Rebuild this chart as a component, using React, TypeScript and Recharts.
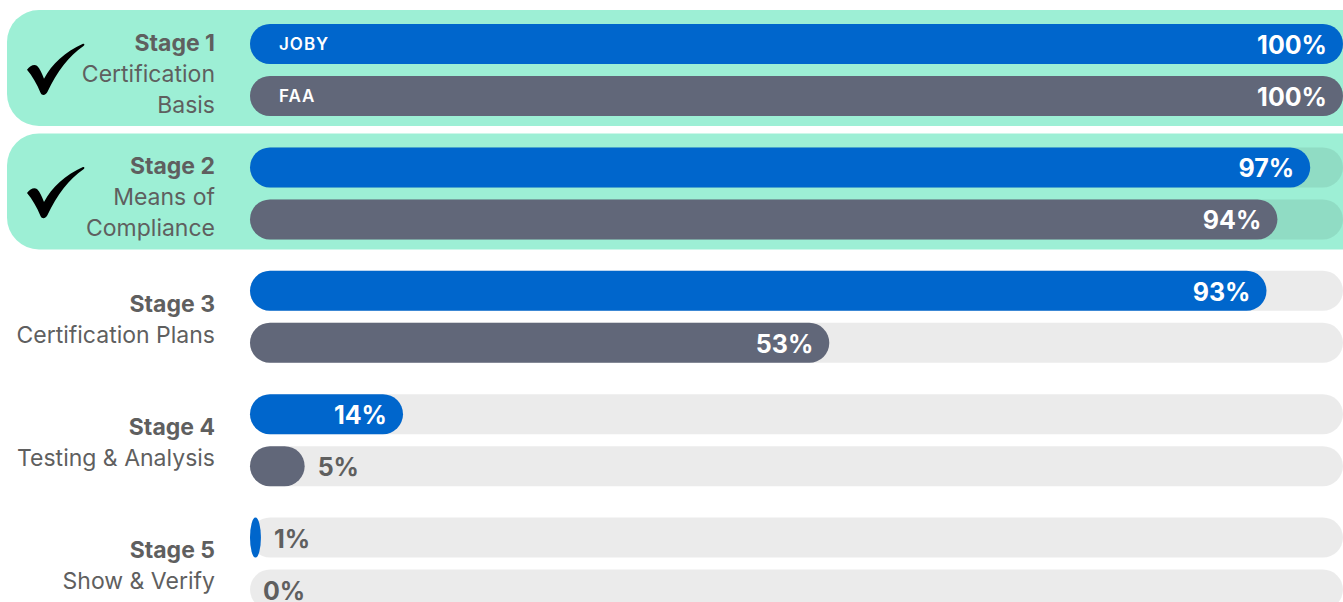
import React from "react";
import { BarChart, Bar, XAxis, YAxis, LabelList } from "recharts";

const stages = ["Stage 1", "Stage 2", "Stage 3", "Stage 4", "Stage 5"];
const stageDescriptions = [
  ["Certification", "Basis"],
  ["Means of", "Compliance"],
  ["Certification Plans"],
  ["Testing & Analysis"],
  ["Show & Verify"],
];
const jobyValues = [100, 97, 93, 14, 1];
const faaValues = [100, 94, 53, 5, 0];
const completed = [true, true, false, false, false];
const seriesNames = ["JOBY", "FAA"];

const data = stages.map((stage, i) => ({
  stage,
  joby: jobyValues[i],
  faa: faaValues[i],
}));

const BLUE = "#0066cc";
const GRAY = "#616779";
const GREEN = "#9defd5";
const TEXT = "#5f5f5f";
const FONT = "Inter, 'Noto Sans', sans-serif";

const CHECK_PATH =
  "M0,26 C3,22 7,20 10,22 C13,25 15,30 17,35 C25,20 38,8 56,0 C57.5,-0.3 58,1 56.5,2.2 C42,12 30,28 20.5,48 C19,51.5 15,52.5 13.5,49 C10,40 5,32 0,26 Z";

function StageTick(props: any) {
  const { y, payload } = props;
  const i = stages.indexOf(payload.value);
  const desc = stageDescriptions[i] || [];
  const lines = [payload.value, ...desc];
  const start = lines.length === 3 ? -19 : -5;
  return (
    <g>
      {completed[i] && (
        <path transform={`translate(27,${y - 26})`} d={CHECK_PATH} fill="#000" />
      )}
      {lines.map((line, k) => (
        <text
          key={k}
          x={215}
          y={y + start + k * 31}
          textAnchor="end"
          fontFamily={FONT}
          fontSize={23}
          fontWeight={k === 0 ? 700 : 400}
          fill={TEXT}
        >
          {line}
        </text>
      ))}
    </g>
  );
}

function makeBackground(withBox: boolean) {
  return (props: any) => {
    const { x, y, width, height, index } = props;
    return (
      <g>
        {withBox && completed[index] && (
          <rect x={7} y={y - 14} width={1400} height={116} rx={32} ry={32} fill={GREEN} />
        )}
        <rect
          x={x}
          y={y}
          width={width}
          height={height}
          rx={height / 2}
          ry={height / 2}
          fill="rgba(0,0,0,0.08)"
        />
      </g>
    );
  };
}

function makeShape(seriesIndex: number, color: string) {
  return (props: any) => {
    const { x, y, width, height, index } = props;
    const r = height / 2;
    return (
      <g>
        {width > 0 && (
          <rect
            x={x}
            y={y}
            width={width}
            height={height}
            rx={Math.min(r, width / 2)}
            ry={r}
            fill={color}
          />
        )}
        {index === 0 && (
          <text
            x={x + 29}
            y={y + height / 2 + 6}
            fontFamily={FONT}
            fontSize={17}
            fontWeight={600}
            letterSpacing={1}
            fill="#ffffff"
          >
            {seriesNames[seriesIndex]}
          </text>
        )}
      </g>
    );
  };
}

function ValueLabel(props: any) {
  const { x, y, width, height, value } = props;
  const v = Number(value);
  const inside = v >= 10;
  const bx = Number(x);
  const bw = Number(width) || 0;
  return (
    <text
      x={inside ? bx + bw - 16 : bx + bw + 13}
      y={Number(y) + Number(height) / 2 + 10}
      textAnchor={inside ? "end" : "start"}
      fontFamily={FONT}
      fontSize={25}
      fontWeight={700}
      fill={inside ? "#ffffff" : TEXT}
    >
      {`${v}%`}
    </text>
  );
}

export default function App() {
  return (
    <div style={{ width: 1343, height: 602, overflow: "hidden", background: "#fff" }}>
      <style>{"body{margin:0;overflow:hidden}"}</style>
      <BarChart
        width={1343}
        height={625}
        data={data}
        layout="vertical"
        margin={{ top: 8, right: 0, bottom: 0, left: 0 }}
        barSize={40}
        barGap={12}
      >
        <XAxis type="number" domain={[0, 100]} hide />
        <YAxis
          type="category"
          dataKey="stage"
          width={250}
          axisLine={false}
          tickLine={false}
          tick={<StageTick />}
          interval={0}
        />
        <Bar
          dataKey="joby"
          isAnimationActive={false}
          background={makeBackground(true)}
          shape={makeShape(0, BLUE)}
        >
          <LabelList dataKey="joby" content={<ValueLabel />} />
        </Bar>
        <Bar
          dataKey="faa"
          isAnimationActive={false}
          background={makeBackground(false)}
          shape={makeShape(1, GRAY)}
        >
          <LabelList dataKey="faa" content={<ValueLabel />} />
        </Bar>
      </BarChart>
    </div>
  );
}
